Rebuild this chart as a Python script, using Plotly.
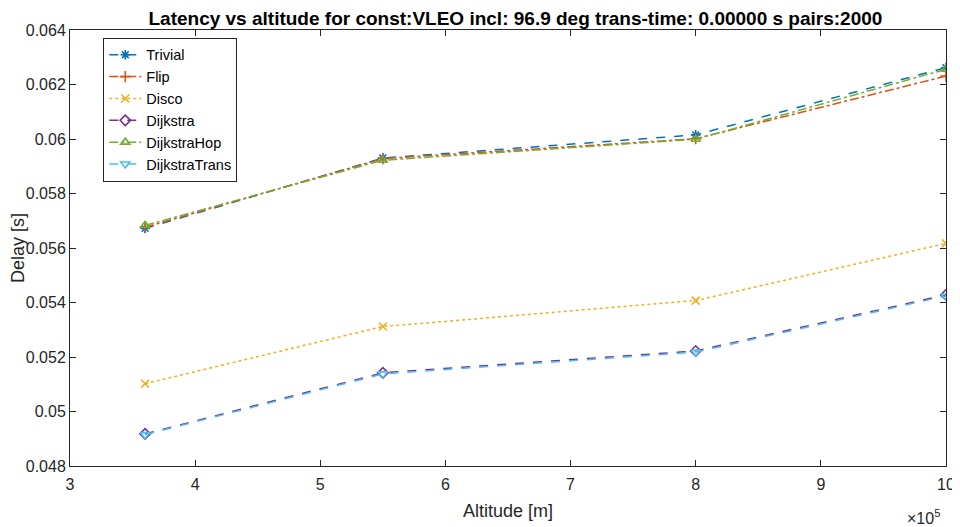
import plotly.graph_objects as go

altitude = [3.6e5, 5.5e5, 8.0e5, 10.0e5]
trivial = [0.05672, 0.05930, 0.06015, 0.06262]
flip = [0.05676, 0.05928, 0.06001, 0.06231]
disco = [0.05102, 0.05312, 0.05407, 0.05617]
dijkstra = [0.04918, 0.05142, 0.05222, 0.05428]
dijkstra_hop = [0.05683, 0.05922, 0.05999, 0.06256]
dijkstra_trans = [0.04915, 0.05138, 0.05218, 0.05424]

x_ticks = [3e5, 4e5, 5e5, 6e5, 7e5, 8e5, 9e5, 10e5]
x_ticklabels = ["3", "4", "5", "6", "7", "8", "9", "10"]
y_ticks = [0.048, 0.05, 0.052, 0.054, 0.056, 0.058, 0.06, 0.062, 0.064]
y_ticklabels = ["0.048", "0.05", "0.052", "0.054", "0.056", "0.058", "0.06", "0.062", "0.064"]

series = [
    ("Trivial", trivial, "#0072BD", "dash", "asterisk-open"),
    ("Flip", flip, "#D95319", "dashdot", "cross-thin-open"),
    ("Disco", disco, "#EDB120", "dot", "x-thin-open"),
    ("Dijkstra", dijkstra, "#7E2F8E", "dash", "diamond-open"),
    ("DijkstraHop", dijkstra_hop, "#77AC30", "dashdot", "triangle-up-open"),
    ("DijkstraTrans", dijkstra_trans, "#4DBEEE", "dash", "triangle-down-open"),
]

fig = go.Figure()
for name, vals, color, dash, sym in series:
    fig.add_trace(go.Scatter(
        x=altitude, y=vals, name=name, mode="lines+markers",
        line=dict(color=color, width=1.5, dash=dash),
        marker=dict(symbol=sym, size=8, color=color, line=dict(color=color, width=1.6)),
    ))

font = "Liberation Sans, Arial, Helvetica, sans-serif"
fig.update_layout(
    width=952, height=519,
    margin=dict(l=62, r=14, t=22, b=61, autoexpand=False),
    paper_bgcolor="white", plot_bgcolor="white",
    font=dict(family=font, size=16, color="#262626"),
    title=dict(text="<b>Latency vs altitude for const:VLEO incl: 96.9 deg trans-time: 0.00000 s pairs:2000</b>",
               x=0.533, xanchor="center", y=0.981, yanchor="middle",
               font=dict(size=19, color="black")),
    showlegend=True,
    legend=dict(x=0.038, y=0.982, xanchor="left", yanchor="top",
                bgcolor="white", bordercolor="#262626", borderwidth=1,
                font=dict(size=14.5, color="black"), tracegroupgap=0, itemwidth=32),
)
fig.update_xaxes(
    range=[3e5, 10e5], tickvals=x_ticks, ticktext=x_ticklabels, automargin=False,
    showgrid=False, zeroline=False, showline=True, linecolor="#262626", linewidth=1,
    mirror="ticks", ticks="inside", ticklen=6, tickcolor="#262626",
    ticklabelstandoff=4,
    title=dict(text="Altitude [m]", standoff=12, font=dict(size=18)),
    tickfont=dict(size=16),
)
fig.update_yaxes(
    range=[0.048, 0.064], tickvals=y_ticks, ticktext=y_ticklabels, automargin=False,
    showgrid=False, zeroline=False, showline=True, linecolor="#262626", linewidth=1,
    mirror="ticks", ticks="inside", ticklen=6, tickcolor="#262626",
    title=dict(text="Delay [s]", standoff=6, font=dict(size=18)),
    tickfont=dict(size=16),
)
fig.add_annotation(text="×10<sup>5</sup>", xref="paper", yref="paper", x=0.974, y=-0.117,
                   xanchor="center", yanchor="middle", showarrow=False,
                   font=dict(size=16, color="#262626"))
fig.write_html("out.html")
